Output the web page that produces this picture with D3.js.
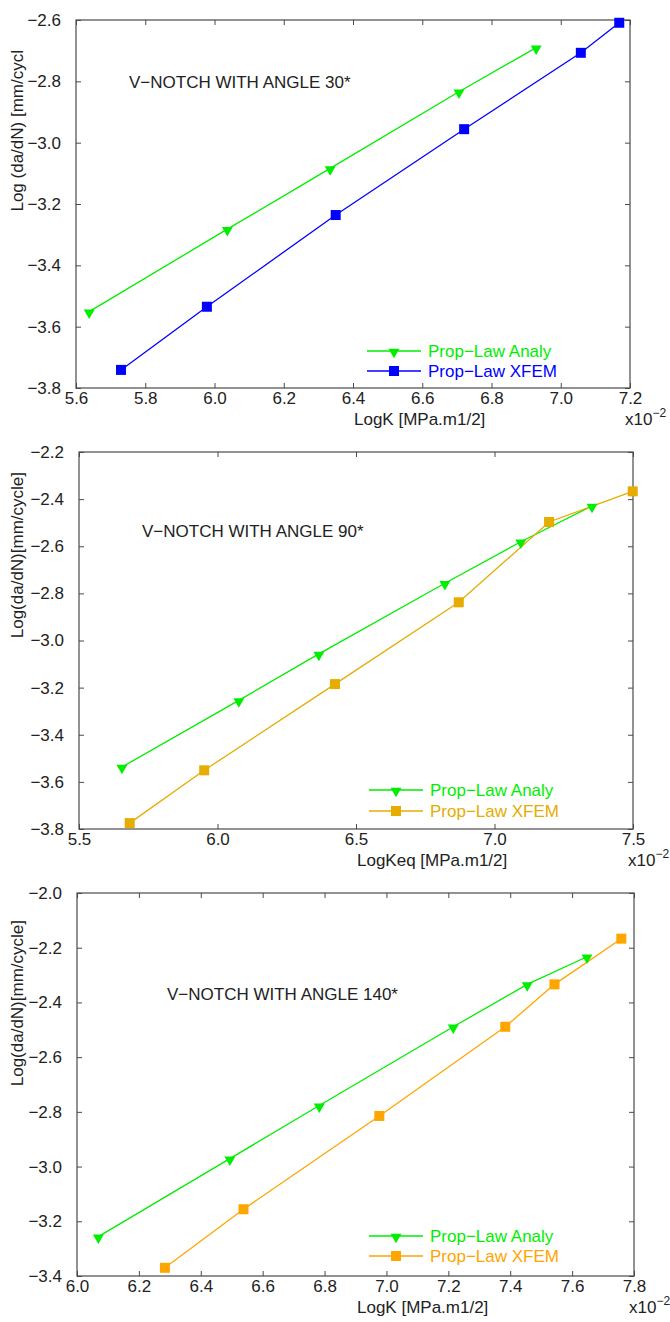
<!DOCTYPE html>
<html><head><meta charset="utf-8">
<script src="https://cdn.jsdelivr.net/npm/d3@7"></script>
<style>
html,body{margin:0;padding:0;background:#fff;}
svg text{font-family:"Liberation Sans",Arial,Helvetica,sans-serif;}
</style></head>
<body><svg id="c" width="670" height="1322"></svg>
<script>
// ---------- Data ----------
// Panel 1: V-notch 30°
const p1AnalyX = [5.638, 6.037, 6.334, 6.706, 6.929];
const p1AnalyY = [-3.551, -3.282, -3.084, -2.834, -2.690];
const p1XfemX  = [5.730, 5.978, 6.350, 6.721, 7.058, 7.169];
const p1XfemY  = [-3.741, -3.535, -3.236, -2.956, -2.707, -2.609];
const p1XTicks = [5.6, 5.8, 6.0, 6.2, 6.4, 6.6, 6.8, 7.0, 7.2];
const p1YTicks = [-2.6, -2.8, -3.0, -3.2, -3.4, -3.6, -3.8];

// Panel 2: V-notch 90°
const p2AnalyX = [5.655, 6.077, 6.366, 6.821, 7.095, 7.352];
const p2AnalyY = [-3.537, -3.254, -3.057, -2.757, -2.581, -2.429];
const p2XfemX  = [5.683, 5.952, 6.424, 6.871, 7.197, 7.499];
const p2XfemY  = [-3.775, -3.551, -3.185, -2.838, -2.497, -2.367];
const p2XTicks = [5.5, 6.0, 6.5, 7.0, 7.5];
const p2YTicks = [-2.2, -2.4, -2.6, -2.8, -3.0, -3.2, -3.4, -3.6, -3.8];

// Panel 3: V-notch 140°
const p3AnalyX = [6.069, 6.494, 6.783, 7.216, 7.455, 7.648];
const p3AnalyY = [-3.256, -2.971, -2.777, -2.489, -2.334, -2.233];
const p3XfemX  = [6.284, 6.538, 6.977, 7.384, 7.543, 7.759];
const p3XfemY  = [-3.370, -3.156, -2.815, -2.489, -2.334, -2.167];
const p3XTicks = [6.0, 6.2, 6.4, 6.6, 6.8, 7.0, 7.2, 7.4, 7.6, 7.8];
const p3YTicks = [-2.0, -2.2, -2.4, -2.6, -2.8, -3.0, -3.2, -3.4];

const seriesNames = ["Prop\u2212Law Analy", "Prop\u2212Law XFEM"];

// ---------- Drawing ----------
const svg = d3.select("#c");
const AX = "#4a4a4a";
const GREEN = "#00ee00";
const FS = 17;

function panel(cfg){
  const x = d3.scaleLinear().domain(cfg.xDom).range([cfg.l, cfg.r]);
  const y = d3.scaleLinear().domain(cfg.yDom).range([cfg.b, cfg.t]);
  const g = svg.append("g");

  const ax = g.append("g").attr("transform",`translate(0,${cfg.b})`)
    .call(d3.axisBottom(x).tickValues(cfg.xTicks).tickSize(-5).tickPadding(4).tickFormat(d3.format(".1f")));
  const axT = g.append("g").attr("transform",`translate(0,${cfg.t})`)
    .call(d3.axisTop(x).tickValues(cfg.xTicks).tickSize(-5).tickFormat(""));
  const ay = g.append("g").attr("transform",`translate(${cfg.l},0)`)
    .call(d3.axisLeft(y).tickValues(cfg.yTicks).tickSize(-5).tickPadding(15).tickFormat(d3.format(".1f")));
  const ayR = g.append("g").attr("transform",`translate(${cfg.r},0)`)
    .call(d3.axisRight(y).tickValues(cfg.yTicks).tickSize(-5).tickFormat(""));
  [ax,axT,ay,ayR].forEach(a=>{
    a.select(".domain").remove();
    a.selectAll("line").attr("stroke",AX).attr("stroke-width",1);
    a.selectAll("text").attr("fill","#222").style("font-size",FS+"px").style("font-family","Liberation Sans, Arial, sans-serif");
  });
  g.append("rect").attr("x",cfg.l).attr("y",cfg.t).attr("width",cfg.r-cfg.l).attr("height",cfg.b-cfg.t)
    .attr("fill","none").attr("stroke",AX).attr("stroke-width",1.2);

  const line = d3.line().x(d=>x(d[0])).y(d=>y(d[1]));
  const A = d3.zip(cfg.ax, cfg.ay), X = d3.zip(cfg.xx, cfg.xy);

  g.append("path").datum(A).attr("d",line).attr("fill","none").attr("stroke",GREEN).attr("stroke-width",1.3);
  g.append("path").datum(X).attr("d",line).attr("fill","none").attr("stroke",cfg.col).attr("stroke-width",1.3);

  const tri = d3.symbol().type(d3.symbolTriangle).size(52);
  g.selectAll(".ta").data(A).enter().append("path")
    .attr("d",tri).attr("transform",d=>`translate(${x(d[0])},${y(d[1])+1}) rotate(180)`).attr("fill",GREEN);
  g.selectAll(".sq").data(X).enter().append("rect")
    .attr("x",d=>x(d[0])-5).attr("y",d=>y(d[1])-5).attr("width",10).attr("height",10).attr("fill",cfg.col);

  g.append("text").attr("x",cfg.titleX).attr("y",cfg.titleY).attr("fill","#222").style("font-size",FS+"px").text(cfg.title);

  g.append("text").attr("x",cfg.xlabX).attr("y",cfg.xlabY).attr("fill","#222").style("font-size",FS+"px").text(cfg.xlab);
  const sc = g.append("text").attr("x",cfg.r-5).attr("y",cfg.xlabY).attr("fill","#222").style("font-size",FS+"px");
  sc.append("tspan").text("x10");
  sc.append("tspan").attr("dy",-8).style("font-size","12px").text("\u22122");
  g.append("text").attr("transform",`translate(23,${cfg.ylabTop}) rotate(-90)`).attr("text-anchor","end")
    .attr("fill","#222").style("font-size",FS+"px").text(cfg.ylab);

  const lg = g.append("g");
  const rows = [{c:GREEN, t:"tri", n:seriesNames[0], y:cfg.legY[0]},{c:cfg.col, t:"sq", n:seriesNames[1], y:cfg.legY[1]}];
  rows.forEach(r=>{
    lg.append("line").attr("x1",cfg.legX0).attr("x2",cfg.legX0+54).attr("y1",r.y).attr("y2",r.y).attr("stroke",r.c).attr("stroke-width",1.3);
    const mx = cfg.legX0+27;
    if(r.t==="tri") lg.append("path").attr("d",tri).attr("transform",`translate(${mx},${r.y+1}) rotate(180)`).attr("fill",r.c);
    else lg.append("rect").attr("x",mx-5).attr("y",r.y-5).attr("width",10).attr("height",10).attr("fill",r.c);
    lg.append("text").attr("x",cfg.legX0+61).attr("y",r.y+6).attr("fill",r.c).style("font-size",FS+"px").text(r.n);
  });
}

panel({l:76,r:630,t:20,b:388,xDom:[5.6,7.2],yDom:[-3.8,-2.6],xTicks:p1XTicks,yTicks:p1YTicks,
  ax:p1AnalyX,ay:p1AnalyY,xx:p1XfemX,xy:p1XfemY,col:"#0000ff",
  title:"V\u2212NOTCH WITH ANGLE 30*",titleX:129,titleY:88,
  xlab:"LogK [MPa.m1/2]",xlabX:354,xlabY:425,ylab:"Log (da/dN) [mm/cycl",ylabTop:50,
  legX0:367,legY:[351,371]});

panel({l:79,r:633,t:452,b:829,xDom:[5.5,7.5],yDom:[-3.8,-2.2],xTicks:p2XTicks,yTicks:p2YTicks,
  ax:p2AnalyX,ay:p2AnalyY,xx:p2XfemX,xy:p2XfemY,col:"#e6ac00",
  title:"V\u2212NOTCH WITH ANGLE 90*",titleX:142,titleY:537,
  xlab:"LogKeq [MPa.m1/2]",xlabX:357,xlabY:866,ylab:"Log(da/dN)[mm/cycle]",ylabTop:472,
  legX0:369,legY:[790,811]});

panel({l:77,r:634,t:893,b:1276,xDom:[6.0,7.8],yDom:[-3.4,-2.0],xTicks:p3XTicks,yTicks:p3YTicks,
  ax:p3AnalyX,ay:p3AnalyY,xx:p3XfemX,xy:p3XfemY,col:"#ffa500",
  title:"V\u2212NOTCH WITH ANGLE 140*",titleX:167,titleY:1000,
  xlab:"LogK [MPa.m1/2]",xlabX:357,xlabY:1313,ylab:"Log(da/dN)[mm/cycle]",ylabTop:920,
  legX0:369,legY:[1236,1256]});
</script></body></html>
